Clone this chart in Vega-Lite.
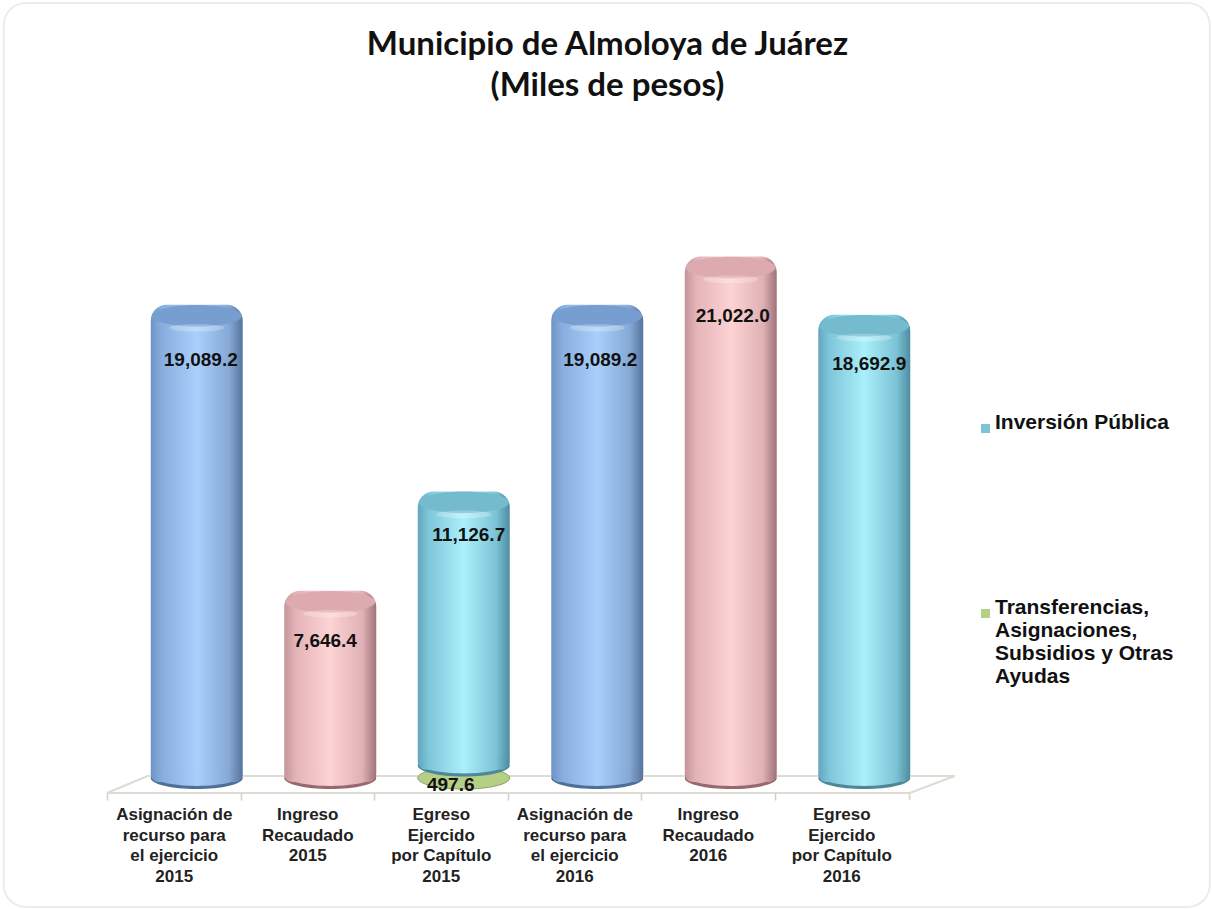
{"$schema":"https://vega.github.io/schema/vega-lite/v6.json","autosize":"none","width":801,"height":600,"padding":{"left":130,"top":182,"right":281,"bottom":127},"background":"white","config":{"view":{"stroke":null}},
"title":{"text":["Municipio de Almoloya de Juárez","(Miles de pesos)"],"font":"Lato","fontSize":33,"fontWeight":"bold","color":"#111111","anchor":"middle","dx":77,"offset":-101,"lineHeight":41},
"data":{"values":[
{"id":1,"cat":"Asignación de|recurso para|el ejercicio|2015","tipo":"Asignación","serie":"Inversión Pública","valor":19089.2},
{"id":2,"cat":"Ingreso|Recaudado|2015","tipo":"Ingreso","serie":"Inversión Pública","valor":7646.4},
{"id":3,"cat":"Egreso|Ejercido|por Capítulo|2015","tipo":"Egreso","serie":"Transferencias, Asignaciones, Subsidios y Otras Ayudas","valor":497.6},
{"id":4,"cat":"Egreso|Ejercido|por Capítulo|2015","tipo":"Egreso","serie":"Inversión Pública","valor":11126.7},
{"id":5,"cat":"Asignación de|recurso para|el ejercicio|2016","tipo":"Asignación","serie":"Inversión Pública","valor":19089.2},
{"id":6,"cat":"Ingreso|Recaudado|2016","tipo":"Ingreso","serie":"Inversión Pública","valor":21022.0},
{"id":7,"cat":"Egreso|Ejercido|por Capítulo|2016","tipo":"Egreso","serie":"Inversión Pública","valor":18692.9}
]},
"transform":[{"stack":"valor","groupby":["cat"],"sort":[{"field":"id","order":"ascending"}],"as":["y0","y1"]}],
"encoding":{"x":{"field":"cat","type":"nominal","axis":null,"scale":{"domain":["Asignación de|recurso para|el ejercicio|2015","Ingreso|Recaudado|2015","Egreso|Ejercido|por Capítulo|2015","Asignación de|recurso para|el ejercicio|2016","Ingreso|Recaudado|2016","Egreso|Ejercido|por Capítulo|2016"],"paddingInner":0,"paddingOuter":0}}},
"layer":[
{"data":{"values":[{"a":-0.946,"b":8.088,"c":-5000,"d":31160}]},"mark":{"type":"rect","cornerRadius":22,"fill":"transparent","stroke":"#ececea","strokeWidth":2},
"encoding":{"x":{"field":"a","type":"quantitative","axis":null,"scale":{"domain":[0,6],"nice":false,"zero":false}},"x2":{"field":"b"},"y":{"field":"c","type":"quantitative","axis":null,"scale":{"domain":[0,24000],"nice":false}},"y2":{"field":"d"}}},
{"data":{"values":[{"n":1,"a":-0.174,"b":-440},{"n":2,"a":0.133,"b":240},{"n":3,"a":6.178,"b":240},{"n":4,"a":5.84,"b":-440},{"n":5,"a":5.84,"b":-720},{"n":6,"a":5.84,"b":-440},{"n":7,"a":-0.174,"b":-440}]},"mark":{"type":"line","stroke":"#dddcd3","strokeWidth":2},
"encoding":{"order":{"field":"n"},"x":{"field":"a","type":"quantitative","axis":null,"scale":{"domain":[0,6],"nice":false,"zero":false}},"y":{"field":"b","type":"quantitative","axis":null,"scale":{"domain":[0,24000],"nice":false}}}},
{"transform":[{"filter":"datum.id==3"}],"mark":{"type":"point","filled":true,"opacity":1,"shape":"M-1,0A1,0.24,0,1,1,1,0A1,0.24,0,1,1,-1,0Z","size":8464,"yOffset":-4,"stroke":"#8aa364","strokeWidth":1},
"encoding":{"x":{"field":"cat","type":"nominal","title":null,"scale":{"domain":["Asignación de|recurso para|el ejercicio|2015","Ingreso|Recaudado|2015","Egreso|Ejercido|por Capítulo|2015","Asignación de|recurso para|el ejercicio|2016","Ingreso|Recaudado|2016","Egreso|Ejercido|por Capítulo|2016"],"paddingInner":0,"paddingOuter":0},
"axis":{"orient":"bottom","offset":11,"domain":false,"ticks":true,"tickBand":"center","tickOffset":-89.75,"tickColor":"#cfcfc6","tickWidth":1.5,"tickSize":7,"labelOffset":66.75,"labelAngle":0,"labelAlign":"center","labelBaseline":"top","labelPadding":6.5,"labelFont":"Liberation Sans","labelFontWeight":"bold","labelFontSize":17,"labelColor":"#222222","labelLineHeight":20.7,"labelLimit":0,"labelExpr":"split(datum.label,'|')","labelOverlap":false,"grid":false}},
"y":{"field":"y0","type":"quantitative","axis":null,"scale":{"domain":[0,24000],"nice":false}},
"color":{"field":"serie","type":"nominal","scale":{"domain":["Inversión Pública","Transferencias, Asignaciones, Subsidios y Otras Ayudas"],"range":["#7fc4d6","#b5cf86"]},
"legend":{"orient":"none","legendX":845,"legendY":236,"title":null,"symbolType":"square","symbolSize":81,"symbolStrokeWidth":0,"labelFont":"Liberation Sans","labelFontWeight":"bold","labelFontSize":21,"labelColor":"#111111","labelOffset":-1,"labelLimit":0,"rowPadding":163,"labelBaseline":"alphabetic","labelExpr":"datum.label=='Inversión Pública'?datum.label:['Transferencias,','Asignaciones,','Subsidios y Otras','Ayudas']"}}}},
{"transform":[{"filter":"datum.serie=='Inversión Pública'"}],"mark":{"type":"point","filled":true,"opacity":1,"shape":"M-1,0A1,0.24,0,1,1,1,0A1,0.24,0,1,1,-1,0Z","size":8464,"yOffset":-4},
"encoding":{"y":{"field":"y0","type":"quantitative","axis":null,"scale":{"domain":[0,24000],"nice":false}},"fill":{"field":"tipo","type":"nominal","legend":null,"scale":{"domain":["Asignación","Ingreso","Egreso"],"range":["#4f6f99","#96696f","#4d8799"]}}}},

{"transform":[{"filter":"datum.serie=='Inversión Pública'&&datum.tipo=='Asignación'"}],"mark":{"type":"bar","width":92,"cornerRadiusTopLeft":16,"cornerRadiusTopRight":16,"cornerRadiusBottomLeft":8,"cornerRadiusBottomRight":8,"fill":{"gradient":"linear","stops":[{"offset":0,"color":"#6d94c4"},{"offset":0.12,"color":"#87aedf"},{"offset":0.5,"color":"#a9cffb"},{"offset":0.85,"color":"#86a9d6"},{"offset":1,"color":"#56749c"}]}},
"encoding":{"y":{"field":"y1","type":"quantitative","axis":null,"scale":{"domain":[0,24000],"nice":false}},"y2":{"field":"y0"}}},
{"transform":[{"filter":"datum.serie=='Inversión Pública'&&datum.tipo=='Ingreso'"}],"mark":{"type":"bar","width":92,"cornerRadiusTopLeft":16,"cornerRadiusTopRight":16,"cornerRadiusBottomLeft":8,"cornerRadiusBottomRight":8,"fill":{"gradient":"linear","stops":[{"offset":0,"color":"#c3949a"},{"offset":0.12,"color":"#e3b3b8"},{"offset":0.5,"color":"#fdd3d4"},{"offset":0.85,"color":"#e0b1b5"},{"offset":1,"color":"#a07378"}]}},
"encoding":{"y":{"field":"y1","type":"quantitative","axis":null,"scale":{"domain":[0,24000],"nice":false}},"y2":{"field":"y0"}}},
{"transform":[{"filter":"datum.serie=='Inversión Pública'&&datum.tipo=='Egreso'"}],"mark":{"type":"bar","width":92,"cornerRadiusTopLeft":16,"cornerRadiusTopRight":16,"cornerRadiusBottomLeft":8,"cornerRadiusBottomRight":8,"fill":{"gradient":"linear","stops":[{"offset":0,"color":"#62a7bd"},{"offset":0.12,"color":"#7ec6da"},{"offset":0.5,"color":"#abeffb"},{"offset":0.85,"color":"#7dc3d6"},{"offset":1,"color":"#4f8ca0"}]}},
"encoding":{"y":{"field":"y1","type":"quantitative","axis":null,"scale":{"domain":[0,24000],"nice":false}},"y2":{"field":"y0"}}},

{"transform":[{"filter":"datum.serie=='Inversión Pública'&&datum.tipo=='Asignación'"}],"mark":{"type":"point","filled":true,"opacity":1,"shape":"M-1,0A1,0.24,0,1,1,1,0A1,0.24,0,1,1,-1,0Z","size":8280,"yOffset":-7,"fill":{"gradient":"linear","stops":[{"offset":0,"color":"#6d94c4"},{"offset":0.12,"color":"#87aedf"},{"offset":0.5,"color":"#a9cffb"},{"offset":0.85,"color":"#86a9d6"},{"offset":1,"color":"#56749c"}]}},
"encoding":{"y":{"field":"y0","type":"quantitative","axis":null,"scale":{"domain":[0,24000],"nice":false}}}},
{"transform":[{"filter":"datum.serie=='Inversión Pública'&&datum.tipo=='Ingreso'"}],"mark":{"type":"point","filled":true,"opacity":1,"shape":"M-1,0A1,0.24,0,1,1,1,0A1,0.24,0,1,1,-1,0Z","size":8280,"yOffset":-7,"fill":{"gradient":"linear","stops":[{"offset":0,"color":"#c3949a"},{"offset":0.12,"color":"#e3b3b8"},{"offset":0.5,"color":"#fdd3d4"},{"offset":0.85,"color":"#e0b1b5"},{"offset":1,"color":"#a07378"}]}},
"encoding":{"y":{"field":"y0","type":"quantitative","axis":null,"scale":{"domain":[0,24000],"nice":false}}}},
{"transform":[{"filter":"datum.serie=='Inversión Pública'&&datum.tipo=='Egreso'"}],"mark":{"type":"point","filled":true,"opacity":1,"shape":"M-1,0A1,0.24,0,1,1,1,0A1,0.24,0,1,1,-1,0Z","size":8280,"yOffset":-7,"fill":{"gradient":"linear","stops":[{"offset":0,"color":"#62a7bd"},{"offset":0.12,"color":"#7ec6da"},{"offset":0.5,"color":"#abeffb"},{"offset":0.85,"color":"#7dc3d6"},{"offset":1,"color":"#4f8ca0"}]}},
"encoding":{"y":{"field":"y0","type":"quantitative","axis":null,"scale":{"domain":[0,24000],"nice":false}}}},

{"transform":[{"filter":"datum.serie=='Inversión Pública'"}],"mark":{"type":"point","filled":true,"opacity":1,"shape":"M-1,0A1,0.24,0,1,1,1,0A1,0.24,0,1,1,-1,0Z","size":8100,"yOffset":11},
"encoding":{"y":{"field":"y1","type":"quantitative","axis":null,"scale":{"domain":[0,24000],"nice":false}},"fill":{"field":"tipo","type":"nominal","legend":null,"scale":{"domain":["Asignación","Ingreso","Egreso"],"range":["#769ed1","#dcaaaf","#74bbce"]}}}},
{"transform":[{"filter":"datum.serie=='Inversión Pública'"}],"mark":{"type":"point","filled":true,"opacity":0.25,"shape":"M-1,0A1,0.14,0,1,1,1,0A1,0.14,0,1,1,-1,0Z","size":3000,"yOffset":23,"color":"white"},
"encoding":{"y":{"field":"y1","type":"quantitative","axis":null,"scale":{"domain":[0,24000],"nice":false}}}},

{"transform":[{"filter":"datum.id==1"}],"mark":{"type":"text","font":"Liberation Sans","fontWeight":"bold","fontSize":19,"color":"#111111","baseline":"middle","dx":4,"yOffset":55},"encoding":{"y":{"field":"y1","type":"quantitative","axis":null,"scale":{"domain":[0,24000],"nice":false}},"text":{"field":"valor","type":"quantitative","format":",.1f"}}},
{"transform":[{"filter":"datum.id==2"}],"mark":{"type":"text","font":"Liberation Sans","fontWeight":"bold","fontSize":19,"color":"#111111","baseline":"middle","dx":-5,"yOffset":50},"encoding":{"y":{"field":"y1","type":"quantitative","axis":null,"scale":{"domain":[0,24000],"nice":false}},"text":{"field":"valor","type":"quantitative","format":",.1f"}}},
{"transform":[{"filter":"datum.id==4"}],"mark":{"type":"text","font":"Liberation Sans","fontWeight":"bold","fontSize":19,"color":"#111111","baseline":"middle","dx":5,"yOffset":44},"encoding":{"y":{"field":"y1","type":"quantitative","axis":null,"scale":{"domain":[0,24000],"nice":false}},"text":{"field":"valor","type":"quantitative","format":",.1f"}}},
{"transform":[{"filter":"datum.id==5"}],"mark":{"type":"text","font":"Liberation Sans","fontWeight":"bold","fontSize":19,"color":"#111111","baseline":"middle","dx":3,"yOffset":55},"encoding":{"y":{"field":"y1","type":"quantitative","axis":null,"scale":{"domain":[0,24000],"nice":false}},"text":{"field":"valor","type":"quantitative","format":",.1f"}}},
{"transform":[{"filter":"datum.id==6"}],"mark":{"type":"text","font":"Liberation Sans","fontWeight":"bold","fontSize":19,"color":"#111111","baseline":"middle","dx":2,"yOffset":60},"encoding":{"y":{"field":"y1","type":"quantitative","axis":null,"scale":{"domain":[0,24000],"nice":false}},"text":{"field":"valor","type":"quantitative","format":",.1f"}}},
{"transform":[{"filter":"datum.id==7"}],"mark":{"type":"text","font":"Liberation Sans","fontWeight":"bold","fontSize":19,"color":"#111111","baseline":"middle","dx":5,"yOffset":49},"encoding":{"y":{"field":"y1","type":"quantitative","axis":null,"scale":{"domain":[0,24000],"nice":false}},"text":{"field":"valor","type":"quantitative","format":",.1f"}}},
{"transform":[{"filter":"datum.id==3"}],"mark":{"type":"text","font":"Liberation Sans","fontWeight":"bold","fontSize":19,"color":"#111111","baseline":"middle","dx":-13,"yOffset":15},"encoding":{"y":{"field":"y1","type":"quantitative","axis":null,"scale":{"domain":[0,24000],"nice":false}},"text":{"field":"valor","type":"quantitative","format":",.1f"}}}
],
"resolve":{"scale":{"x":"independent","fill":"independent"},"axis":{"x":"independent"}}}
